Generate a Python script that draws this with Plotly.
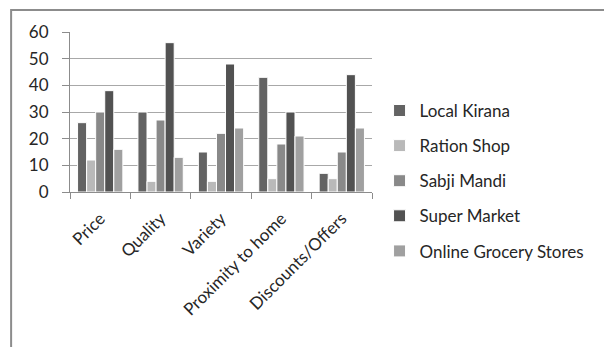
import plotly.graph_objects as go

categories = ["Price", "Quality", "Variety", "Proximity to home", "Discounts/Offers"]
series_names = ["Local Kirana", "Ration Shop", "Sabji Mandi", "Super Market", "Online Grocery Stores"]
local_kirana = [26, 30, 15, 43, 7]
ration_shop = [12, 4, 4, 5, 5]
sabji_mandi = [30, 27, 22, 18, 15]
super_market = [38, 56, 48, 30, 44]
online_grocery = [16, 13, 24, 21, 24]
y_ticks = [0, 10, 20, 30, 40, 50, 60]

series_values = [local_kirana, ration_shop, sabji_mandi, super_market, online_grocery]
colors = ["#636363", "#b9b9b9", "#898989", "#525252", "#a0a0a0"]

font_family = "Lato, 'Open Sans', sans-serif"
text_color = "#262626"

fig = go.Figure()
for i, (name, vals) in enumerate(zip(series_names, series_values)):
    fig.add_trace(go.Bar(
        x=categories, y=vals, name=name,
        legendgroup=name,
        marker=dict(color=colors[i], line=dict(color="#ffffff", width=1)),
    ))

fig.update_layout(
    width=604, height=347,
    margin=dict(l=70, r=232, t=32, b=155),
    paper_bgcolor="white", plot_bgcolor="white",
    barmode="group", bargap=0.25, bargroupgap=0,
    font=dict(family=font_family, size=17, color=text_color),
    showlegend=True,
    legend=dict(
        x=1.025, y=0.069, xanchor="left", yanchor="middle",
        font=dict(family=font_family, size=17, color=text_color),
        tracegroupgap=10, itemwidth=30,
        maxheight=330,
        bgcolor="rgba(0,0,0,0)",
    ),
    shapes=[dict(
        type="rect", xref="paper", yref="paper",
        x0=-0.195, x1=2.0, y0=-2.0, y1=1.1375,
        line=dict(color="#8c8c8c", width=2), fillcolor="rgba(0,0,0,0)",
        layer="below",
    )],
)

fig.update_xaxes(
    type="category", tickangle=-45,
    showline=True, linecolor="#8c8c8c", linewidth=1,
    ticks="outside", tickson="boundaries", ticklen=6, tickcolor="#8c8c8c",
    ticklabelstandoff=9,
    showgrid=False,
    tickfont=dict(family=font_family, size=17, color=text_color),
)
fig.update_yaxes(
    range=[0, 60], tickvals=y_ticks,
    showline=True, linecolor="#8c8c8c", linewidth=1,
    ticks="outside", ticklen=7, tickcolor="#8c8c8c",
    ticklabelstandoff=10,
    showgrid=True, gridcolor="#a8a8a8", gridwidth=1,
    zeroline=False,
    tickfont=dict(family=font_family, size=17, color=text_color),
)

fig.write_html("out.html")
